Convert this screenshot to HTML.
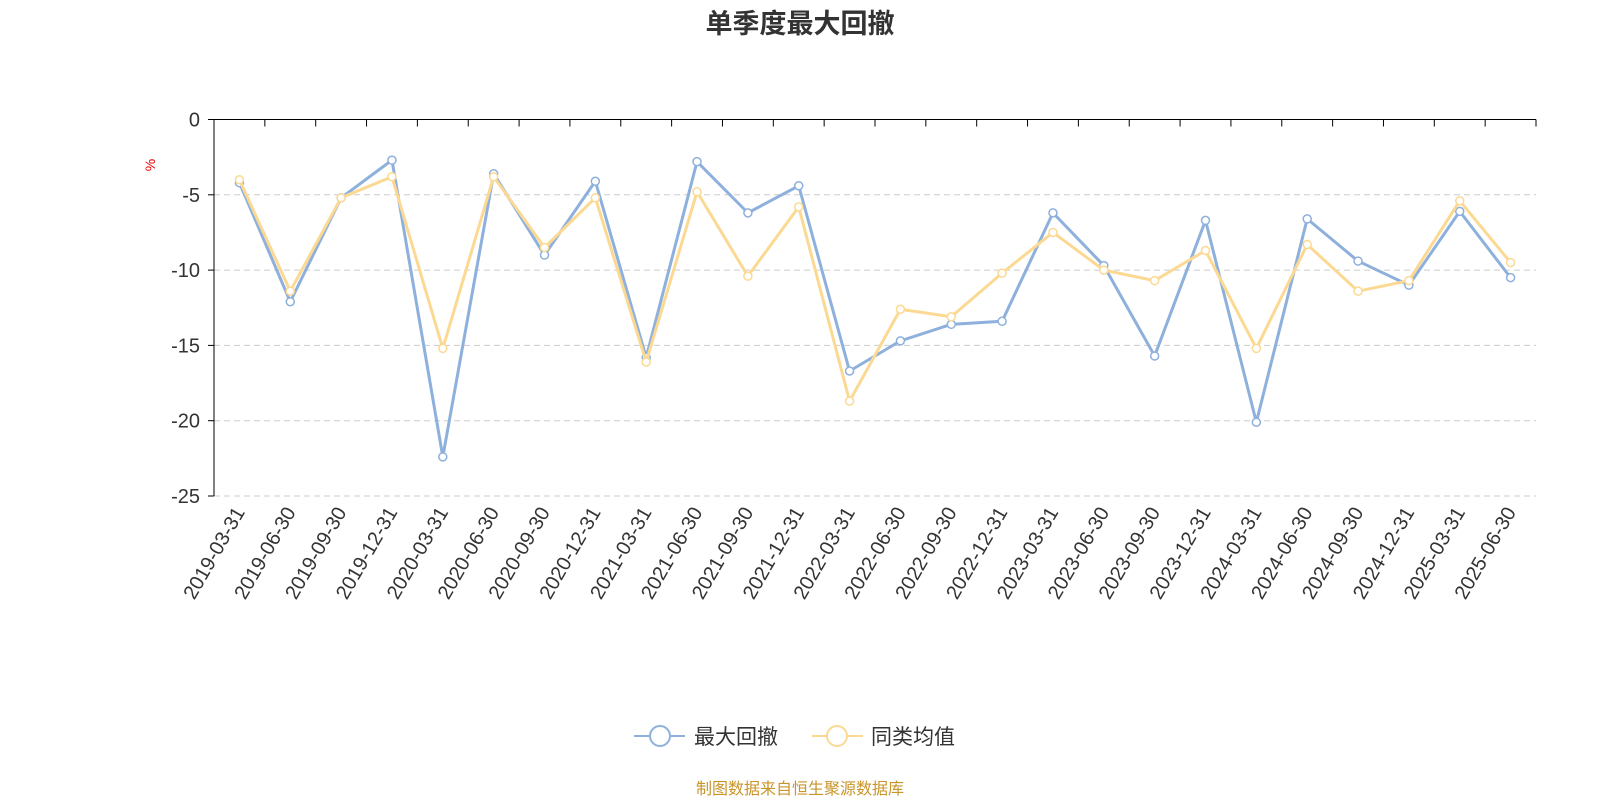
<!DOCTYPE html>
<html><head><meta charset="utf-8"><style>
body{margin:0;background:#fff;}
svg{display:block;font-family:"Liberation Sans","Noto Sans CJK SC",sans-serif;}
</style></head><body>
<svg id="chart" width="1600" height="800" viewBox="0 0 1600 800">
<text x="800" y="33" text-anchor="middle" font-size="27" font-weight="bold" fill="#333">单季度最大回撤</text>
<text x="155" y="165" text-anchor="middle" font-size="14" fill="#e00" transform="rotate(-90 155 165)">%</text>
<g id="grid"></g><g id="axes"></g><g id="series"></g>
<g>
<g>
<line x1="634" y1="736" x2="685" y2="736" stroke="#8eb0dc" stroke-width="2"/>
<circle cx="660" cy="736" r="10" fill="#fff" stroke="#8eb0dc" stroke-width="2"/>
<text x="694" y="744" font-size="21" fill="#333">最大回撤</text></g>
<g>
<line x1="812" y1="736" x2="863" y2="736" stroke="#fcd993" stroke-width="2"/>
<circle cx="837" cy="736" r="10" fill="#fff" stroke="#fcd993" stroke-width="2"/>
<text x="871" y="744" font-size="21" fill="#333">同类均值</text></g>
</g>
<text x="800" y="794" text-anchor="middle" font-size="16" fill="#c9952a">制图数据来自恒生聚源数据库</text>
</svg>
<script>
const categories=["2019-03-31","2019-06-30","2019-09-30","2019-12-31","2020-03-31","2020-06-30","2020-09-30","2020-12-31","2021-03-31","2021-06-30","2021-09-30","2021-12-31","2022-03-31","2022-06-30","2022-09-30","2022-12-31","2023-03-31","2023-06-30","2023-09-30","2023-12-31","2024-03-31","2024-06-30","2024-09-30","2024-12-31","2025-03-31","2025-06-30"];
const maxDrawdown=[-4.2,-12.1,-5.2,-2.7,-22.4,-3.6,-9.0,-4.1,-15.8,-2.8,-6.2,-4.4,-16.7,-14.7,-13.6,-13.4,-6.2,-9.7,-15.7,-6.7,-20.1,-6.6,-9.4,-11.0,-6.1,-10.5];
const categoryAvg=[-4.0,-11.4,-5.2,-3.8,-15.2,-3.8,-8.5,-5.2,-16.1,-4.8,-10.4,-5.8,-18.7,-12.6,-13.1,-10.2,-7.5,-10.0,-10.7,-8.7,-15.2,-8.3,-11.4,-10.7,-5.4,-9.5];
const yTicks=[0,-5,-10,-15,-20,-25];
const NS="http://www.w3.org/2000/svg";
const L=214,R=1536,T=119.5,B=496,yMin=-25,yMax=0;
const bw=(R-L)/categories.length;
const xs=i=>L+bw*(i+0.5);
const ys=v=>T+(yMax-v)/(yMax-yMin)*(B-T);
function mk(t,a,p){const e=document.createElementNS(NS,t);for(const k in a)e.setAttribute(k,a[k]);p.appendChild(e);return e;}
const grid=document.getElementById('grid'),axes=document.getElementById('axes'),ser=document.getElementById('series');
yTicks.forEach(v=>{
 if(v!==0){const g=mk('line',{x1:L,x2:R,y1:ys(v),y2:ys(v),stroke:'#ccc','stroke-dasharray':'6,4'},grid);
 
 }
 const tk=mk('line',{x1:L-6,x2:L,y1:ys(v),y2:ys(v),stroke:'#000'},axes);
 
 
 const t=mk('text',{x:L-14,y:ys(v)+7,'text-anchor':'end','font-size':20,fill:'#333'},axes);t.textContent=v;
 
 
});
const ya=mk('line',{x1:L,x2:L,y1:T,y2:B,stroke:'#000'},axes);


const xa=mk('line',{x1:L,x2:R,y1:T,y2:T,stroke:'#000'},axes);


for(let i=0;i<=categories.length;i++){const x=L+bw*i;const tk=mk('line',{x1:x,x2:x,y1:T,y2:T+7,stroke:'#000'},axes);
 
 }
categories.forEach((c,i)=>{const x=xs(i)+6,y=B+16;
 const t=mk('text',{x:x,y:y,'text-anchor':'end','font-size':20,fill:'#333',transform:`rotate(-60 ${x} ${y})`},axes);t.textContent=c;
 
 });
function draw(data,color,name){
 const g=mk('g',{},ser);
 
 
 const p=mk('polyline',{points:data.map((v,i)=>xs(i)+','+ys(v)).join(' '),fill:'none',stroke:color,'stroke-width':3,'stroke-linejoin':'round'},g);
 
 
 data.forEach((v,i)=>{const c=mk('circle',{cx:xs(i),cy:ys(v),r:4,fill:'#fff',stroke:color,'stroke-width':1.5},g);
 
 });
}
draw(maxDrawdown,'#8eb0dc','max-drawdown-series');
draw(categoryAvg,'#fcd993','category-average-series');
</script>
</body></html>
